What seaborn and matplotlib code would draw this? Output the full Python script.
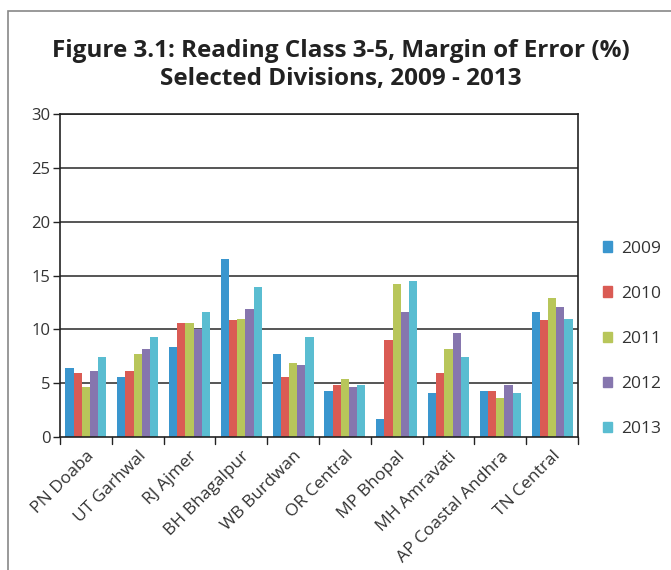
import matplotlib
matplotlib.use("Agg")
import matplotlib.pyplot as plt
import matplotlib.patches as mpatches
import matplotlib.transforms as mtransforms
import seaborn as sns
import pandas as pd

divisions = ["PN Doaba", "UT Garhwal", "RJ Ajmer", "BH Bhagalpur", "WB Burdwan",
             "OR Central", "MP Bhopal", "MH Amravati", "AP Coastal Andhra", "TN Central"]
years = ["2009", "2010", "2011", "2012", "2013"]
moe_2009 = [6.4, 5.6, 8.4, 16.5, 7.7, 4.3, 1.7, 4.1, 4.3, 11.6]
moe_2010 = [5.9, 6.1, 10.6, 10.9, 5.6, 4.8, 9.0, 5.9, 4.3, 10.9]
moe_2011 = [4.6, 7.7, 10.6, 11.0, 6.9, 5.4, 14.2, 8.2, 3.6, 12.9]
moe_2012 = [6.1, 8.2, 10.0, 11.9, 6.7, 4.6, 11.6, 9.7, 4.8, 12.1]
moe_2013 = [7.4, 9.3, 11.6, 13.9, 9.3, 4.8, 14.5, 7.4, 4.1, 11.0]
yticks = [0, 5, 10, 15, 20, 25, 30]
colors = ["#3A96CE", "#DA5B54", "#B8C65A", "#8676AE", "#5ABDD1"]

series = [moe_2009, moe_2010, moe_2011, moe_2012, moe_2013]
df = pd.DataFrame(
    [(d, y, v) for y, vals in zip(years, series) for d, v in zip(divisions, vals)],
    columns=["Division", "Year", "MoE"],
)

sns.set_theme(style="white")
plt.rcParams["font.family"] = ["Open Sans", "DejaVu Sans"]

fig = plt.figure(figsize=(6.71, 5.70), dpi=100)
ax = fig.add_axes([60 / 671, 133 / 570, 518 / 671, 323 / 570])

sns.barplot(data=df, x="Division", y="MoE", hue="Year", palette=colors,
            width=0.79, saturation=1, ax=ax, legend=False, linewidth=0)

ax.set_ylim(0, 30)
ax.set_xlim(-0.5, len(divisions) - 0.5)
ax.set_yticks(yticks)
ax.set_yticklabels([str(t) for t in yticks], fontsize=12, color="#333333")
ax.set_xticks(range(len(divisions)))
ax.set_xticklabels(divisions, rotation=45, ha="right", rotation_mode="anchor",
                   fontsize=12.5, color="#333333")
# nudge rotated labels slightly left of the category centre
shift = mtransforms.ScaledTranslation(-8 / 100, 0, fig.dpi_scale_trans)
for lbl in ax.get_xticklabels():
    lbl.set_transform(lbl.get_transform() + shift)
ax.tick_params(axis="x", length=0, pad=8)
ax.tick_params(axis="y", left=True, length=5, width=1, color="#222222", pad=2)
ax.set_xlabel("")
ax.set_ylabel("")

# category separators below the axis
for b in range(len(divisions) + 1):
    ax.plot([b - 0.5, b - 0.5], [0, -0.65], color="#222222", lw=1,
            clip_on=False, transform=ax.transData)

for t in yticks[1:]:
    ax.axhline(t, color="#555555", lw=1.4, zorder=0)
for s in ax.spines.values():
    s.set_color("#222222")
    s.set_linewidth(1.2)
ax.set_axisbelow(True)

handles = [mpatches.Patch(color=c, label=y) for c, y in zip(colors, years)]
fig.legend(handles=handles, loc="upper left", bbox_to_anchor=(587 / 671, 1 - 225 / 570),
           frameon=False, fontsize=12.5, handlelength=0.55, handleheight=0.55,
           handletextpad=0.5, labelspacing=1.68, labelcolor="#333333")

fig.text(341 / 671, 1 - 65 / 570, "Figure 3.1: Reading Class 3-5, Margin of Error (%)\nSelected Divisions, 2009 - 2013",
         ha="center", va="center", fontsize=17.5, fontweight="bold", color="#222222",
         linespacing=1.2)

# outer frame
fig.patches.append(mpatches.Rectangle((8 / 671, -0.1), 1.0, 1 - 11 / 570 + 0.1,
                                      transform=fig.transFigure, fill=False,
                                      edgecolor="#888888", lw=1.2))

fig.savefig("out.png", dpi=100, facecolor="white")
